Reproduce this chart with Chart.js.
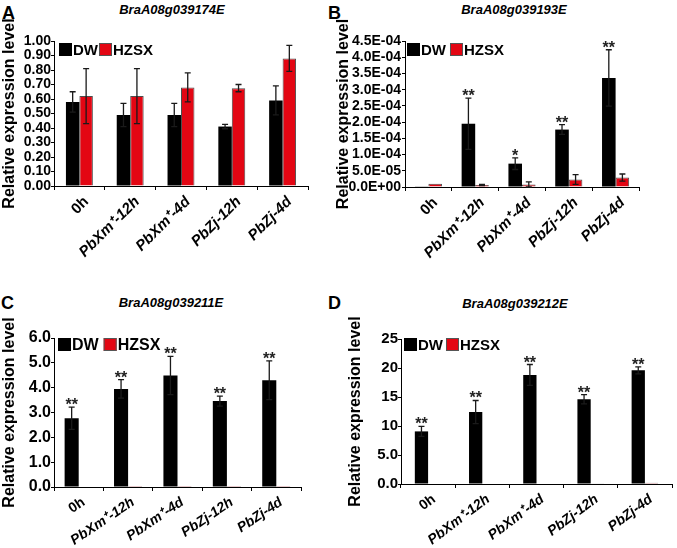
<!DOCTYPE html>
<html>
<head>
<meta charset="utf-8">
<script src="https://cdn.jsdelivr.net/npm/chart.js@4.4.1/dist/chart.umd.min.js"></script>
<style>
    body { margin: 0; background: #fff; }
    #wrap { position: relative; width: 677px; height: 548px; overflow: hidden; font-family: 'Liberation Sans', Arial, sans-serif; color: #000; }
    canvas { position: absolute; }
    .letra { position: absolute; font-weight: bold; font-size: 18px; line-height: 18px; }
    .gene { position: absolute; width: 200px; text-align: center; font-weight: bold; font-style: italic; font-size: 13px; line-height: 13px; }
</style>
</head>
<body>
<div id="wrap">
    <div class="letra" style="left:2px;top:4px">A</div>
    <div class="letra" style="left:328px;top:4px">B</div>
    <div class="letra" style="left:1px;top:294px">C</div>
    <div class="letra" style="left:328px;top:294px">D</div>
    <div class="gene" style="left:72px;top:3px">BraA08g039174E</div>
    <div class="gene" style="left:414px;top:3px">BraA08g039193E</div>
    <div class="gene" style="left:71px;top:296px">BraA08g039211E</div>
    <div class="gene" style="left:415px;top:297px">BraA08g039212E</div>
</div>
<script>
const categories = ['0h', 'PbXm\u207A-12h', 'PbXm\u207A-4d', 'PbZj-12h', 'PbZj-4d']
const seriesNames = ['DW', 'HZSX']

// A - BraA08g039174E
const dwA = [0.58, 0.49, 0.49, 0.41, 0.59]
const dwErrA = [0.07, 0.08, 0.08, 0.015, 0.10]
const hzA = [0.62, 0.62, 0.68, 0.675, 0.88]
const hzErrA = [0.19, 0.19, 0.10, 0.025, 0.09]
const starsA = ['', '', '', '', '']
const yTicksA = [0, 0.1, 0.2, 0.3, 0.4, 0.5, 0.6, 0.7, 0.8, 0.9, 1.0]
const yLabelsA = ['0.00', '0.10', '0.20', '0.30', '0.40', '0.50', '0.60', '0.70', '0.80', '0.90', '1.00']

// B - BraA08g039193E
const dwB = [0.01e-4, 1.95e-4, 0.72e-4, 1.77e-4, 3.36e-4]
const dwErrB = [0, 0.79e-4, 0.18e-4, 0.15e-4, 0.87e-4]
const hzB = [1.0e-5, 0.6e-5, 0.8e-5, 2.3e-5, 2.9e-5]
const hzErrB = [0, 0.2e-5, 0.8e-5, 1.5e-5, 1.1e-5]
const starsB = ['', '**', '*', '**', '**']
const yTicksB = [0, 0.5e-4, 1.0e-4, 1.5e-4, 2.0e-4, 2.5e-4, 3.0e-4, 3.5e-4, 4.0e-4, 4.5e-4]
const yLabelsB = ['0.0E+00', '5.0E-05', '1.0E-04', '1.5E-04', '2.0E-04', '2.5E-04', '3.0E-04', '3.5E-04', '4.0E-04', '4.5E-04']

// C - BraA08g039211E
const dwC = [2.77, 3.95, 4.49, 3.46, 4.30]
const dwErrC = [0.45, 0.37, 0.77, 0.2, 0.78]
const hzC = [0.02, 0.005, 0.005, 0.005, 0.005]
const hzErrC = [0, 0, 0, 0, 0]
const starsC = ['**', '**', '**', '**', '**']
const yTicksC = [0, 1, 2, 3, 4, 5, 6]
const yLabelsC = ['0.0', '1.0', '2.0', '3.0', '4.0', '5.0', '6.0']

// D - BraA08g039212E
const dwD = [9.07, 12.4, 18.8, 14.6, 19.6]
const dwErrD = [0.87, 2.0, 1.8, 0.8, 0.6]
const hzD = [0.1, 0.1, 0.1, 0.12, 0.2]
const hzErrD = [0, 0, 0, 0, 0]
const starsD = ['**', '**', '**', '**', '**']
const yTicksD = [0, 5, 10, 15, 20, 25]
const yLabelsD = ['0.0', '5.0', '10', '15', '20', '25']

const PRETO = '#000000'
const VERMELHO = '#e30613'
const FONTE = "'Liberation Sans', Arial, sans-serif"

Chart.defaults.font.family = FONTE
Chart.defaults.color = '#000'

// barras de erro, asteriscos e legenda dentro do grafico
const extras = {
    id: 'extras',
    afterDatasetsDraw(chart, args, opts) {
        const ctx = chart.ctx
        const y = chart.scales.y
        ctx.save()
        chart.data.datasets.forEach((ds, i) => {
            const meta = chart.getDatasetMeta(i)
            meta.data.forEach((bar, j) => {
                const v = ds.data[j]
                const e = ds.errs[j]
                let topo = y.getPixelForValue(v)
                if (e > 0) {
                    topo = y.getPixelForValue(v + e)
                    const base = y.getPixelForValue(v - e)
                    ctx.strokeStyle = '#1a1a1a'
                    ctx.lineWidth = 1.3
                    ctx.beginPath()
                    ctx.moveTo(bar.x, topo)
                    ctx.lineTo(bar.x, base)
                    ctx.moveTo(bar.x - 3, topo)
                    ctx.lineTo(bar.x + 3, topo)
                    ctx.moveTo(bar.x - 3, base)
                    ctx.lineTo(bar.x + 3, base)
                    ctx.stroke()
                }
                if (ds.stars && ds.stars[j]) {
                    ctx.fillStyle = '#222'
                    ctx.font = `bold 16px ${FONTE}`
                    ctx.textAlign = 'center'
                    ctx.textBaseline = 'alphabetic'
                    ctx.fillText(ds.stars[j], bar.x, topo + 3)
                }
            })
        })

        // legenda
        const area = chart.chartArea
        let x = area.left + opts.dx
        const cy = area.top + opts.dy + opts.box / 2
        ctx.font = `bold ${opts.size}px ${FONTE}`
        ctx.textAlign = 'left'
        ctx.textBaseline = 'middle'
        chart.data.datasets.forEach((ds, i) => {
            ctx.fillStyle = ds.backgroundColor
            ctx.fillRect(x, cy - opts.box / 2, opts.box, opts.box)
            if (i === 1) {
                ctx.strokeStyle = '#555'
                ctx.lineWidth = 1
                ctx.strokeRect(x + 0.5, cy - opts.box / 2 + 0.5, opts.box - 1, opts.box - 1)
            }
            x += opts.box + 1
            ctx.fillStyle = '#000'
            ctx.fillText(ds.label, x, cy + 1)
            x += ctx.measureText(ds.label).width + opts.gap
        })
        ctx.restore()
    }
}

function criaGrafico(p) {
    const canvas = document.createElement('canvas')
    canvas.width = p.w
    canvas.height = p.h
    canvas.style.left = p.left + 'px'
    canvas.style.top = p.top + 'px'
    document.getElementById('wrap').appendChild(canvas)

    new Chart(canvas, {
        type: 'bar',
        data: {
            labels: categories,
            datasets: [{
                label: seriesNames[0],
                data: p.dw,
                errs: p.dwErr,
                stars: p.stars,
                backgroundColor: PRETO,
                borderWidth: 0,
                categoryPercentage: p.cat,
                barPercentage: 1.0
            }, {
                label: seriesNames[1],
                data: p.hz,
                errs: p.hzErr,
                backgroundColor: VERMELHO,
                borderColor: '#4d4d4d',
                borderWidth: 1,
                categoryPercentage: p.cat,
                barPercentage: 1.0
            }]
        },
        options: {
            responsive: false,
            animation: false,
            layout: { padding: p.pad },
            plugins: {
                legend: { display: false },
                tooltip: { enabled: false },
                extras: p.legenda
            },
            scales: {
                x: {
                    grid: { display: true, drawOnChartArea: false, drawTicks: true, tickLength: 4, color: '#000', offset: true },
                    border: { display: true, color: '#000', width: 1 },
                    ticks: {
                        autoSkip: false,
                        minRotation: p.rot,
                        maxRotation: p.rot,
                        padding: 3,
                        labelOffset: p.xOff,
                        color: '#000',
                        font: (c) => ({ size: p.xSize, weight: 'bold', style: c.index === 0 ? 'normal' : 'italic' })
                    },
                    afterFit: (s) => { s.height = p.xH }
                },
                y: {
                    min: p.yTicks[0],
                    max: p.yTicks[p.yTicks.length - 1],
                    grid: { display: true, drawOnChartArea: false, drawTicks: true, tickLength: 3, color: '#000' },
                    border: { display: true, color: '#000', width: 1 },
                    ticks: {
                        autoSkip: false,
                        padding: p.tickPad,
                        color: '#000',
                        font: { size: p.tickSize, weight: 'bold' },
                        callback: (v, i) => p.yLabels[i]
                    },
                    afterBuildTicks: (s) => { s.ticks = p.yTicks.map(v => ({ value: v })) },
                    title: {
                        display: true,
                        text: 'Relative expression level',
                        color: '#000',
                        font: { size: 16, weight: 'bold' },
                        padding: { top: p.titlePad, bottom: 0 }
                    },
                    afterFit: (s) => { s.width = p.yW }
                }
            }
        },
        plugins: [extras]
    })
}

criaGrafico({
    left: 0, top: 0, w: 318, h: 270,
    pad: { left: 0, top: 41, right: 10, bottom: 0 }, yW: 54, xH: 84,
    dw: dwA, dwErr: dwErrA, hz: hzA, hzErr: hzErrA, stars: starsA,
    yTicks: yTicksA, yLabels: yLabelsA, tickSize: 14, tickPad: 0, titlePad: 0,
    cat: 0.53, rot: 45, xSize: 15, xOff: 7,
    legenda: { dx: 5, dy: 2, box: 13, size: 15, gap: 1 }
})

criaGrafico({
    left: 334, top: 0, w: 343, h: 270,
    pad: { left: 0, top: 41, right: 38, bottom: 0 }, yW: 71, xH: 83,
    dw: dwB, dwErr: dwErrB, hz: hzB, hzErr: hzErrB, stars: starsB,
    yTicks: yTicksB, yLabels: yLabelsB, tickSize: 14, tickPad: 1, titlePad: 0,
    cat: 0.58, rot: 45, xSize: 15, xOff: 7,
    legenda: { dx: 2, dy: 2, box: 13, size: 15, gap: 4 }
})

criaGrafico({
    left: 0, top: 270, w: 318, h: 278,
    pad: { left: 0, top: 68, right: 17, bottom: 0 }, yW: 54, xH: 61,
    dw: dwC, dwErr: dwErrC, hz: hzC, hzErr: hzErrC, stars: starsC,
    yTicks: yTicksC, yLabels: yLabelsC, tickSize: 16, tickPad: 0, titlePad: 0,
    cat: 0.57, rot: 34, xSize: 14, xOff: 5,
    legenda: { dx: 4, dy: 0, box: 13, size: 16, gap: 5 }
})

criaGrafico({
    left: 338, top: 270, w: 339, h: 278,
    pad: { left: 0, top: 69, right: 5, bottom: 0 }, yW: 63, xH: 64,
    dw: dwD, dwErr: dwErrD, hz: hzD, hzErr: hzErrD, stars: starsD,
    yTicks: yTicksD, yLabels: yLabelsD, tickSize: 15, tickPad: 0, titlePad: 8,
    cat: 0.49, rot: 37, xSize: 14, xOff: 6,
    legenda: { dx: 3, dy: -1, box: 13, size: 15, gap: 3 }
})
</script>
</body>
</html>
